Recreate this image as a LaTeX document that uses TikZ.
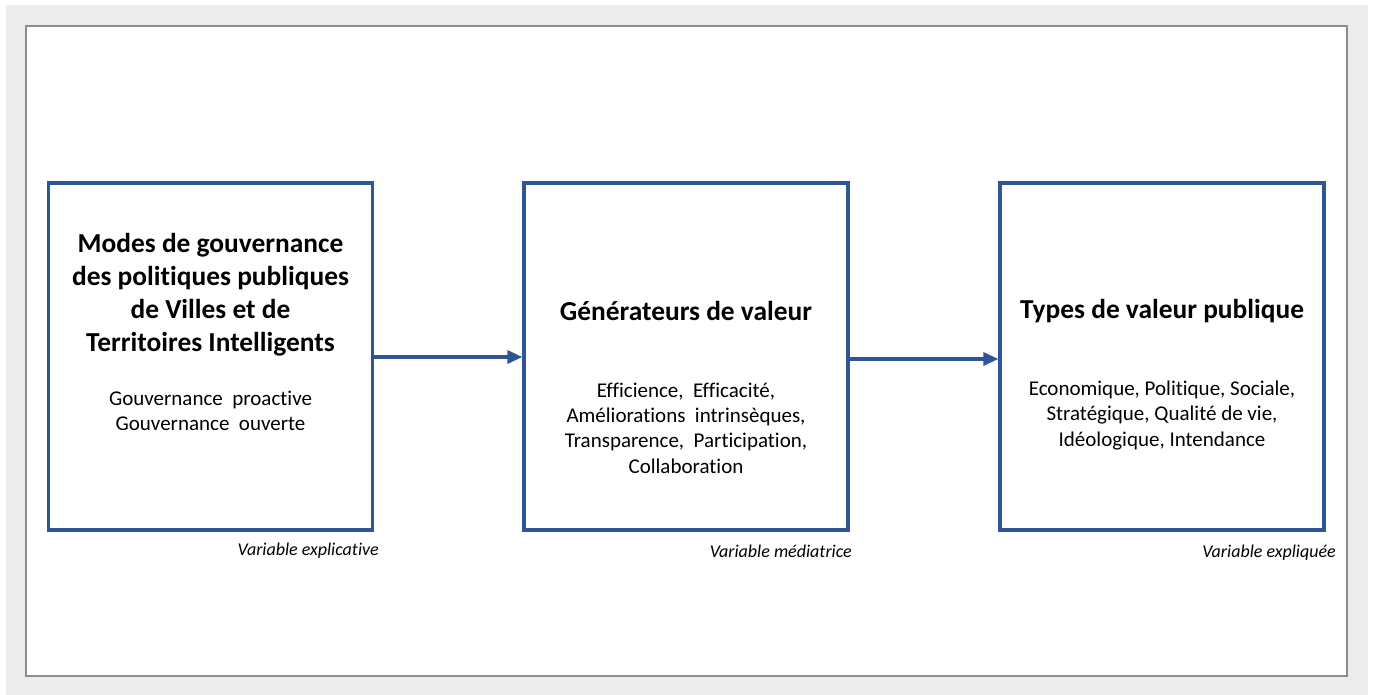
\documentclass[tikz,border=0pt]{standalone}
\usepackage{fontspec}
\setmainfont{Carlito}[Ligatures={NoCommon}]
\usetikzlibrary{arrows.meta}
\definecolor{boxblue}{HTML}{2F5597}
\definecolor{framegray}{HTML}{8C8C88}
\definecolor{bggray}{HTML}{ECECEC}
\tikzset{
  every picture/.style={x=1pt,y=-1pt},
  valbox/.style={draw=boxblue, line width=3.2pt, minimum width=324pt, minimum height=347pt, inner sep=0pt},
  titletxt/.style={align=center, inner sep=0pt, font=\fontsize{27.4}{33}\selectfont\bfseries},
  itemtxt/.style={align=center, inner sep=0pt, font=\fontsize{21}{25.3}\selectfont},
  vartxt/.style={anchor=east, inner sep=0pt, font=\fontsize{18}{20}\selectfont\itshape},
  link/.style={draw=boxblue, line width=3.2pt, -{Triangle[length=15pt,width=13pt]}}
}
\begin{document}
\begin{tikzpicture}
\useasboundingbox (0,0) rectangle (1373,695);
\fill[bggray] (6,5) rectangle (1368,695);
\draw[framegray, line width=2pt, fill=white] (26,26) rectangle (1347,676);

\node[valbox] (b1) at (210.5,356.5) {};
\node[valbox] (b2) at (686,356.5) {};
\node[valbox] (b3) at (1162,356.5) {};

\node[titletxt] (t1) at (210.5,294.5) {Modes de gouvernance\\des politiques publiques\\de Villes et de\\Territoires Intelligents};
\node[itemtxt] (i1) at (210.5,410.5) {Gouvernance\ \ proactive\\Gouvernance\ \ ouverte};

\node[titletxt] (t2) at (686,311) {Générateurs de valeur};
\node[itemtxt] (i2) at (686,428) {Efficience,\ \ Efficacité,\\Améliorations\ \ intrinsèques,\\Transparence,\ \ Participation,\\Collaboration};

\node[titletxt] (t3) at (1162,311) {Types de valeur publique};
\node[itemtxt] (i3) at (1162,415.5) {Economique,\ Politique,\ Sociale,\\Stratégique,\ Qualité de vie,\\Idéologique,\ Intendance};

\node[vartxt] (v1) at (379,551) {Variable explicative};
\node[vartxt] (v2) at (852,551) {Variable médiatrice};
\node[vartxt] (v3) at (1336,553) {Variable expliquée};

\draw[link] ([yshift=-0.5pt]b1.east) -- ([yshift=-0.5pt]b2.west);
\draw[link] ([yshift=-2.5pt]b2.east) -- ([yshift=-2.5pt]b3.west);
\end{tikzpicture}
\end{document}
